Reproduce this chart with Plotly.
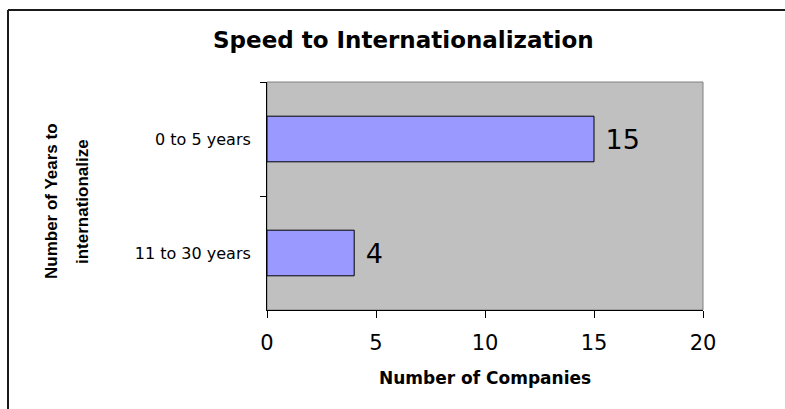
import plotly.graph_objects as go

categories = ["0 to 5 years", "11 to 30 years"]
companies = [15, 4]
x_ticks = [0, 5, 10, 15, 20]
title_text = "Speed to Internationalization"
x_title = "Number of Companies"
y_title_lines = ["Number of Years to", "internationalize"]

W, H = 785, 409
L, R, T, B = 267, 82, 82, 99
pw, ph = W - L - R, H - T - B


def px(x):
    return (x - L) / pw


def py(y):
    return (H - B - y) / ph


fig = go.Figure()
fig.add_trace(go.Bar(
    y=categories, x=companies, orientation="h", width=0.4,
    marker=dict(color="#9999FF", line=dict(color="#000000", width=1)),
    text=companies, texttemplate="\u00a0%{x}", textposition="outside",
    textfont=dict(family="DejaVu Sans", size=27, color="#000000"),
    cliponaxis=False, showlegend=False,
))

fig.update_layout(
    width=W, height=H,
    margin=dict(l=L, r=R, t=T, b=B, pad=0),
    paper_bgcolor="#FFFFFF", plot_bgcolor="#C0C0C0",
    xaxis=dict(range=[0, 20], tickvals=x_ticks, showgrid=False, zeroline=False,
               showline=True, linecolor="#000000", linewidth=1,
               ticks="outside", ticklen=7, tickcolor="#000000", tickwidth=1,
               tickfont=dict(family="DejaVu Sans", size=21, color="#000000"),
               ticklabelstandoff=7),
    yaxis=dict(type="category", categoryorder="array", categoryarray=categories,
               autorange="reversed", showgrid=False, zeroline=False,
               showline=True, linecolor="#000000", linewidth=1,
               ticks="outside", ticklen=6, tickcolor="#000000", tickwidth=1,
               tickson="boundaries",
               tickfont=dict(family="DejaVu Sans", size=16, color="#000000"),
               ticklabelstandoff=12),
    shapes=[
        dict(type="rect", xref="paper", yref="paper", x0=0, x1=1, y0=0, y1=1,
             line=dict(color="#808080", width=1), layer="below"),
        dict(type="line", xref="paper", yref="paper", x0=px(8), x1=px(8),
             y0=py(10), y1=py(420), line=dict(color="#1a1a1a", width=2)),
        dict(type="line", xref="paper", yref="paper", x0=px(8), x1=px(800),
             y0=py(10), y1=py(10), line=dict(color="#1a1a1a", width=2)),
    ],
    annotations=[
        dict(text=title_text, xref="paper", yref="paper", x=px(403), y=py(40),
             showarrow=False, xanchor="center", yanchor="middle",
             font=dict(family="DejaVu Sans", size=23, color="#000000", weight="bold")),
        dict(text=x_title, xref="paper", yref="paper", x=px(485), y=py(378),
             showarrow=False, xanchor="center", yanchor="middle",
             font=dict(family="DejaVu Sans", size=17, color="#000000", weight="bold")),
        dict(text=y_title_lines[0], xref="paper", yref="paper", x=px(51), y=py(201),
             showarrow=False, xanchor="center", yanchor="middle", textangle=-90,
             font=dict(family="Liberation Sans", size=17, color="#000000", weight="bold")),
        dict(text=y_title_lines[1], xref="paper", yref="paper", x=px(82), y=py(202),
             showarrow=False, xanchor="center", yanchor="middle", textangle=-90,
             font=dict(family="Liberation Sans", size=17, color="#000000", weight="bold")),
    ],
)

fig.write_html("out.html")
